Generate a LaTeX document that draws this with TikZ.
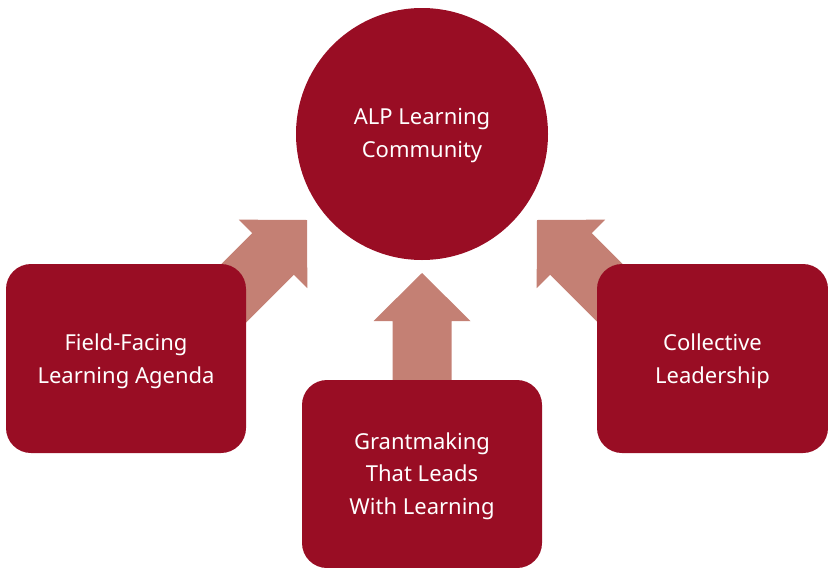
\documentclass[tikz,border=0pt]{standalone}
\usepackage{fontspec}
\setmainfont{Noto Sans}
\definecolor{darkred}{RGB}{153,13,36}
\definecolor{pinkarrow}{RGB}{196,128,116}
\tikzset{
  hub/.style={circle, fill=darkred, minimum size=252pt, inner sep=0pt},
  pillar/.style={rectangle, rounded corners=25pt, fill=darkred, inner sep=0pt},
  boxtext/.style={text=white, align=center, inner sep=0pt, font=\fontsize{22}{32.5}\selectfont},
  blockarrow/.style={fill=pinkarrow, draw=none}
}
\newcommand{\blockarrowpath}{(0,0) -- (48.5,-48) -- (29.5,-48) -- (29.5,-130) -- (-29.5,-130) -- (-29.5,-48) -- (-48.5,-48) -- cycle}
\begin{document}
\begin{tikzpicture}[x=1pt,y=-1pt]
\useasboundingbox (0,0) rectangle (828,568);
% arrow tips
\coordinate (tipL) at (307,220);
\coordinate (tipM) at (422,273);
\coordinate (tipR) at (537,220);
% arrows (drawn first, behind the boxes)
\begin{scope}[shift={(tipL)}, x=1pt, y=1pt, rotate=-45]
  \fill[blockarrow] \blockarrowpath;
\end{scope}
\begin{scope}[shift={(tipM)}, x=1pt, y=1pt]
  \fill[blockarrow] \blockarrowpath;
\end{scope}
\begin{scope}[shift={(tipR)}, x=1pt, y=1pt, rotate=45]
  \fill[blockarrow] \blockarrowpath;
\end{scope}
% nodes
\node[hub] (alp) at (422,134) {};
\node[pillar, minimum width=240pt, minimum height=189pt] (field) at (126,358.5) {};
\node[pillar, minimum width=240pt, minimum height=188pt] (grant) at (422,474) {};
\node[pillar, minimum width=231pt, minimum height=189pt] (coll) at (712.5,358.5) {};
% texts
\node[boxtext, yshift=-1.5pt] (alpt) at (alp.center) {ALP Learning\\Community};
\node[boxtext, yshift=-3pt] (fieldt) at (field.center) {Field-Facing\\Learning Agenda};
\node[boxtext, yshift=-2pt] (grantt) at (grant.center) {Grantmaking\\That Leads\\With Learning};
\node[boxtext, yshift=-3pt] (collt) at (coll.center) {Collective\\Leadership};
\end{tikzpicture}
\end{document}
